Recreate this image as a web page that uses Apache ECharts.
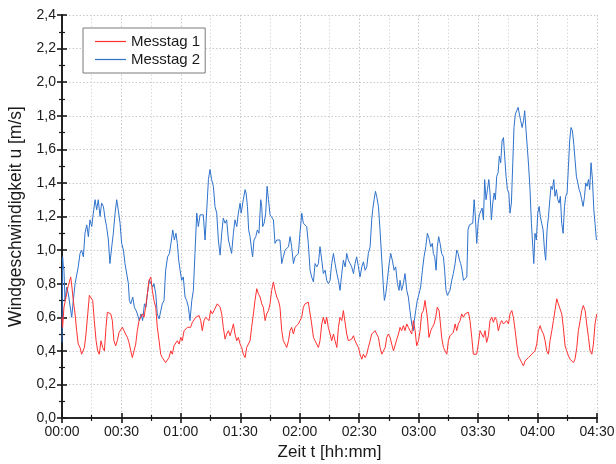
<!DOCTYPE html>
<html><head><meta charset="utf-8">
<script src="https://cdn.jsdelivr.net/npm/echarts@6/dist/echarts.min.js"></script>
<style>html,body{margin:0;padding:0;background:#fff}#c{width:616px;height:464px}</style>
</head><body><div id="c"></div>
<script>
// Time in minutes after 00:00
const xTicks = ['00:00','00:30','01:00','01:30','02:00','02:30','03:00','03:30','04:00','04:30'];
const seriesNames = ['Messtag 1','Messtag 2'];

// Messtag 1 (red)
const t1 = [0,0.3,1.0,1.7,2.4,3.0,3.7,4.4,5.0,5.7,6.6,7.4,8.2,9.1,9.9,10.8,11.3,12.1,13.0,13.8,14.6,15.5,16.3,17.2,18.0,18.8,19.7,20.5,21.4,22.2,22.9,23.7,24.6,25.4,26.2,27.1,27.9,28.8,29.6,30.5,31.3,32.1,33.0,33.8,34.7,35.5,36.3,37.2,38.0,38.9,39.7,40.6,41.4,42.2,43.1,43.9,44.8,45.6,46.4,47.3,48.1,49.0,49.8,50.6,51.5,52.3,53.2,54.0,54.9,55.7,56.5,57.4,58.2,59.1,59.9,60.7,61.6,62.4,63.3,64.1,64.9,65.8,66.6,67.5,68.3,69.2,70.0,70.8,71.7,72.5,73.4,74.2,75.0,75.9,76.7,77.6,78.4,79.3,
79.8,80.6,81.4,82.3,83.1,84.0,84.8,85.6,86.5,87.3,88.2,89.0,89.9,90.7,91.5,92.4,93.2,94.1,94.9,95.7,96.6,97.4,98.3,99.1,100.0,100.8,101.6,102.5,103.3,104.2,105.0,105.8,106.7,107.5,108.4,109.2,110.0,110.9,111.7,112.6,113.4,114.3,115.1,115.9,116.8,117.6,118.5,119.3,120.1,121.0,121.8,122.7,123.5,124.3,125.2,126.0,126.9,127.7,128.6,129.4,130.2,131.1,131.9,132.8,133.6,134.4,135.3,136.1,137.0,137.8,138.7,139.5,140.3,141.2,142.0,142.9,143.7,144.5,145.4,146.2,147.1,147.9,148.7,149.6,150.4,151.3,152.1,153.0,153.8,154.6,155.5,156.3,157.2,158.0,158.8,159.7,160.5,161.4,162.2,163.1,163.9,164.7,165.6,166.4,167.3,168.1,169.0,169.8,
170.6,171.4,172.3,173.1,174.0,174.8,175.6,176.5,177.3,178.2,179.0,179.9,180.7,181.5,182.4,183.2,183.7,184.4,185.2,186.1,186.9,187.8,188.6,189.4,190.3,191.0,191.6,192.5,193.3,194.2,195.0,195.8,196.7,197.5,198.4,199.2,200.0,200.9,201.7,202.6,203.4,204.3,205.1,205.9,206.8,207.6,208.5,209.3,210.1,211.0,211.8,212.7,213.5,214.3,215.2,216.0,216.9,217.7,218.6,219.4,220.2,221.1,221.9,222.8,223.6,224.4,225.3,226.1,227.0,227.8,228.7,229.5,230.3,231.2,232.0,232.9,233.7,234.5,235.4,236.2,237.1,237.9,238.7,239.6,240.4,241.3,242.1,243.0,243.8,244.6,245.5,246.3,247.2,248.0,248.8,249.7,250.5,251.4,252.2,253.0,253.9,254.7,255.6,256.4,257.3,258.1,258.9,259.8,260.6,261.5,262.3,263.1,264.0,264.8,265.7,266.5,267.4,268.2,269.0,269.9];
const v1 = [0.60,0.54,0.66,0.70,0.69,0.78,0.81,0.84,0.78,0.70,0.62,0.52,0.44,0.42,0.38,0.37,0.42,0.50,0.62,0.73,0.74,0.70,0.58,0.46,0.40,0.38,0.46,0.42,0.40,0.54,0.63,0.64,0.62,0.58,0.46,0.43,0.46,0.51,0.50,0.54,0.52,0.50,0.48,0.45,0.40,0.36,0.37,0.44,0.52,0.58,0.57,0.62,0.60,0.66,0.74,0.82,0.84,0.76,0.70,0.66,0.54,0.46,0.38,0.36,0.35,0.33,0.34,0.36,0.40,0.38,0.43,0.42,0.46,0.44,0.48,0.46,0.52,0.51,0.54,0.55,0.54,0.57,0.56,0.60,0.59,0.61,0.58,0.52,0.58,0.60,0.61,0.58,0.64,0.62,0.64,0.65,0.68,0.67,
0.66,0.62,0.54,0.47,0.50,0.52,0.49,0.52,0.56,0.50,0.46,0.48,0.44,0.42,0.38,0.36,0.42,0.41,0.46,0.54,0.62,0.70,0.77,0.74,0.72,0.68,0.66,0.58,0.62,0.64,0.68,0.76,0.81,0.76,0.72,0.70,0.66,0.52,0.46,0.44,0.42,0.46,0.52,0.54,0.50,0.54,0.53,0.56,0.58,0.60,0.66,0.68,0.67,0.69,0.68,0.56,0.48,0.46,0.47,0.42,0.46,0.56,0.60,0.56,0.60,0.54,0.50,0.46,0.50,0.46,0.42,0.54,0.60,0.58,0.64,0.63,0.50,0.46,0.45,0.47,0.49,0.46,0.44,0.42,0.38,0.35,0.38,0.36,0.38,0.42,0.46,0.50,0.51,0.52,0.50,0.48,0.42,0.38,0.37,0.42,0.48,0.50,0.48,0.44,0.40,0.41,0.47,0.50,
0.54,0.52,0.55,0.52,0.56,0.54,0.52,0.50,0.58,0.52,0.43,0.46,0.52,0.62,0.64,0.70,0.71,0.60,0.48,0.52,0.54,0.56,0.60,0.66,0.64,0.56,0.48,0.42,0.40,0.38,0.46,0.49,0.50,0.51,0.56,0.52,0.56,0.58,0.62,0.60,0.62,0.61,0.63,0.58,0.48,0.38,0.37,0.38,0.44,0.52,0.53,0.48,0.52,0.45,0.49,0.58,0.60,0.57,0.60,0.58,0.52,0.56,0.58,0.56,0.55,0.58,0.56,0.62,0.64,0.60,0.52,0.44,0.37,0.35,0.33,0.31,0.34,0.33,0.36,0.35,0.38,0.37,0.40,0.44,0.52,0.55,0.52,0.50,0.46,0.40,0.38,0.46,0.52,0.58,0.64,0.71,0.68,0.67,0.62,0.54,0.43,0.40,0.37,0.35,0.36,0.33,0.35,0.42,0.52,0.58,0.64,0.67,0.64,0.56,0.48,0.40,0.38,0.44,0.56,0.62];

// Messtag 2 (blue)
const t2 = [0,0.3,0.7,1.0,1.5,2.4,3.2,4.0,4.9,5.7,6.6,7.4,8.2,9.1,9.9,10.8,11.6,12.5,13.3,14.1,15.0,15.8,16.7,17.5,18.3,19.2,20.0,20.9,21.7,22.5,23.4,24.2,25.1,25.9,26.8,27.6,28.4,29.3,30.1,31.0,31.8,32.6,33.5,34.0,34.7,35.7,36.5,37.4,38.0,39.0,39.9,40.7,41.6,42.4,43.1,44.1,44.9,45.8,46.4,47.3,48.1,49.0,49.8,50.6,51.5,52.3,53.3,54.2,55.0,55.9,56.7,57.5,58.2,58.9,59.6,60.4,61.2,62.1,62.9,63.8,64.6,65.5,66.3,67.1,68.0,68.8,69.7,70.5,71.3,72.2,73.0,73.9,74.7,75.5,76.4,77.2,78.1,78.9,79.8,
80.6,81.4,82.3,83.1,84.0,84.8,85.6,86.5,87.3,88.2,89.0,89.9,90.4,91.0,91.5,92.4,92.9,93.6,94.2,94.9,95.7,96.2,96.9,97.8,98.6,99.4,100.3,100.8,101.3,102.0,102.8,103.5,104.2,105.0,105.8,106.7,107.5,108.4,109.2,110.0,110.9,111.7,112.6,113.4,114.3,115.1,115.9,116.8,117.6,118.5,119.3,120.1,121.0,121.8,122.7,123.5,124.3,125.2,126.0,126.9,127.7,128.6,129.4,130.2,131.1,131.9,132.8,133.6,134.4,135.3,136.1,137.0,137.8,138.7,139.5,140.3,141.2,142.0,142.9,143.7,144.5,145.4,146.2,147.1,147.9,148.7,149.6,150.4,151.3,152.1,153.0,153.8,154.6,155.5,156.3,156.8,157.5,158.2,158.8,159.7,160.5,161.4,162.2,162.7,163.4,164.2,165.1,165.9,166.7,167.6,168.4,169.3,170.1,
170.6,171.4,172.3,173.1,174.0,174.8,175.6,176.5,177.3,177.8,178.5,179.3,180.2,181.0,181.9,182.7,183.6,184.4,185.2,186.1,186.9,187.4,188.1,188.8,189.4,190.1,190.8,191.6,192.5,193.1,193.8,194.5,195.2,195.8,196.7,197.5,198.4,199.2,199.9,200.6,201.2,201.9,202.6,203.4,204.3,204.9,205.6,206.4,207.3,208.0,208.6,209.3,210.0,210.6,211.3,212.0,212.7,213.3,214.0,214.7,215.4,216.0,216.7,217.4,218.1,218.7,219.4,220.1,220.7,221.4,222.1,222.8,223.4,224.1,224.8,225.5,226.1,226.8,227.5,228.1,228.8,229.5,230.2,230.8,231.5,232.2,232.9,233.5,234.2,234.9,235.5,236.2,236.9,237.6,238.1,238.7,239.4,240.1,240.8,241.4,242.1,242.8,243.5,244.1,244.8,245.5,246.2,246.8,247.5,248.2,248.8,249.5,250.2,250.9,251.5,252.2,252.9,253.6,254.2,254.9,255.6,256.2,256.9,257.6,258.3,258.9,259.6,260.3,261.0,261.6,262.3,263.0,263.7,264.3,265.0,265.7,266.3,267.0,267.7,268.4,269.0,269.7];
const v2 = [0.45,0.96,0.90,0.88,0.70,0.78,0.74,0.75,0.60,0.70,0.80,0.81,0.90,0.98,1.00,0.96,1.10,1.15,1.08,1.18,1.14,1.22,1.30,1.24,1.30,1.20,1.28,1.26,1.19,1.14,1.06,0.92,1.02,1.10,1.22,1.30,1.24,1.16,1.04,1.00,0.92,0.92,0.80,0.70,0.68,0.72,0.66,0.64,0.62,0.58,0.62,0.58,0.68,0.66,0.74,0.82,0.82,0.78,0.80,0.74,0.62,0.59,0.60,0.68,0.70,0.88,0.96,0.98,1.04,1.12,1.06,1.10,1.04,0.94,0.88,0.82,0.84,0.72,0.70,0.66,0.58,0.70,0.76,0.98,1.22,1.14,1.21,1.20,1.21,1.06,1.06,1.42,1.48,1.42,1.38,1.26,1.22,1.06,0.97,
1.10,1.19,1.16,1.18,1.06,1.02,0.98,1.10,1.18,1.14,1.22,1.28,1.22,1.21,1.30,1.36,1.34,1.26,1.12,1.08,1.00,0.96,1.06,1.08,1.12,1.10,1.30,1.26,1.14,1.16,1.22,1.38,1.30,1.21,1.20,1.18,1.04,1.06,1.07,1.06,0.92,0.96,1.00,0.99,1.02,1.08,1.02,0.92,0.96,0.97,0.98,1.10,1.22,1.16,1.17,1.14,1.04,0.88,0.84,0.81,0.92,0.90,0.92,1.02,0.94,0.86,0.88,0.82,0.80,0.82,0.92,0.98,0.92,0.86,0.82,0.76,0.86,0.94,0.90,0.98,0.94,0.92,0.90,0.86,0.92,0.96,0.90,0.84,0.90,0.93,0.88,0.90,0.98,1.02,1.18,1.24,1.30,1.35,1.32,1.26,1.12,0.94,0.78,0.70,0.74,0.82,0.92,0.98,0.94,0.88,0.90,0.80,0.76,
0.82,0.76,0.80,0.86,0.76,0.72,0.64,0.56,0.52,0.58,0.64,0.70,0.74,0.78,0.88,0.96,1.02,1.10,1.07,1.02,1.04,0.98,0.96,0.88,1.02,1.08,1.04,0.98,0.96,0.88,0.76,0.73,0.74,0.76,0.82,0.86,0.92,1.00,0.98,0.94,0.92,0.88,0.82,0.81,0.84,1.12,1.15,1.14,1.16,1.30,1.20,1.04,1.16,1.21,1.20,1.25,1.18,1.42,1.30,1.36,1.42,1.34,1.18,1.28,1.34,1.30,1.44,1.46,1.56,1.52,1.65,1.67,1.56,1.44,1.36,1.34,1.22,1.28,1.52,1.73,1.81,1.83,1.85,1.81,1.77,1.73,1.77,1.83,1.71,1.60,1.50,1.36,1.16,1.02,0.92,1.10,1.06,1.22,1.26,1.20,1.16,1.12,1.00,0.94,1.12,1.20,1.30,1.38,1.36,1.42,1.32,1.36,1.30,1.28,1.32,1.16,1.10,1.26,1.32,1.34,1.50,1.65,1.73,1.71,1.63,1.54,1.44,1.40,1.36,1.34,1.30,1.26,1.32,1.40,1.38,1.42,1.36,1.52,1.42,1.24,1.16,1.06];

const yMin = 0, yMax = 2.4, yStep = 0.2;
const xMin = 0, xMax = 270, xStep = 30;

const d1 = t1.map((t, i) => [t, v1[i]]);
const d2 = t2.map((t, i) => [t, v2[i]]);

const FONT = '"Liberation Sans", Arial, sans-serif';
const fmtTime = v => xTicks[Math.round(v / xStep)] || '';
const fmtY = v => v.toFixed(1).replace('.', ',');
const axisLineStyle = { color: '#1a1a1a', width: 1.6 };
const gridDot = { color: '#c9c9c9', type: [1.5, 2], width: 1 };

const chart = echarts.init(document.getElementById('c'), null, { renderer: 'canvas' });
chart.setOption({
  animation: false,
  backgroundColor: '#fff',
  grid: { left: 62, right: 19, top: 15, bottom: 46, containLabel: false, outerBoundsMode: 'none' },
  legend: {
    orient: 'vertical', left: 83, top: 28,
    padding: [6, 5, 6, 12], itemGap: 3,
    itemWidth: 31, itemHeight: 1.2, icon: 'rect',
    borderColor: '#7a7a7a', borderWidth: 1, backgroundColor: '#fff',
    textStyle: { fontFamily: FONT, fontSize: 15, color: '#1a1a1a' },
    data: seriesNames
  },
  xAxis: [{
    type: 'value', min: xMin, max: xMax, interval: xStep,
    name: 'Zeit t [hh:mm]', nameLocation: 'middle', nameGap: 26,
    nameTextStyle: { fontFamily: FONT, fontSize: 17, color: '#1a1a1a' },
    axisLine: { show: true, lineStyle: axisLineStyle },
    axisTick: { show: true, inside: true, length: 5, lineStyle: axisLineStyle },
    minorTick: { show: true, splitNumber: 2, length: 3, lineStyle: { color: '#1a1a1a', width: 1.2 } },
    axisLabel: { formatter: fmtTime, fontFamily: FONT, fontSize: 14, color: '#1a1a1a', margin: 7 },
    splitLine: { show: true, lineStyle: gridDot },
    minorSplitLine: { show: true, lineStyle: { color: '#dadada', type: [1.5, 2], width: 1 } }
  }, {
    type: 'value', min: xMin, max: xMax, interval: xStep, position: 'top',
    axisLine: { show: true, lineStyle: axisLineStyle },
    axisTick: { show: true, inside: true, length: 5, lineStyle: axisLineStyle },
    minorTick: { show: true, splitNumber: 2, length: 3, lineStyle: { color: '#1a1a1a', width: 1.2 } },
    axisLabel: { show: false }, splitLine: { show: false }
  }],
  yAxis: [{
    type: 'value', min: yMin, max: yMax, interval: yStep,
    name: 'Windgeschwindigkeit u [m/s]', nameLocation: 'middle', nameGap: 34,
    nameTextStyle: { fontFamily: FONT, fontSize: 17.5, color: '#1a1a1a' },
    axisLine: { show: true, lineStyle: axisLineStyle },
    axisTick: { show: true, inside: true, length: 5, lineStyle: axisLineStyle },
    minorTick: { show: true, splitNumber: 2, length: 3, lineStyle: { color: '#1a1a1a', width: 1.2 } },
    axisLabel: { formatter: fmtY, fontFamily: FONT, fontSize: 14, color: '#1a1a1a', margin: 6 },
    splitLine: { show: true, lineStyle: gridDot }
  }, {
    type: 'value', min: yMin, max: yMax, interval: yStep, position: 'right',
    axisLine: { show: true, lineStyle: axisLineStyle },
    axisTick: { show: true, inside: true, length: 5, lineStyle: axisLineStyle },
    minorTick: { show: true, splitNumber: 2, length: 3, lineStyle: { color: '#1a1a1a', width: 1.2 } },
    axisLabel: { show: false }, splitLine: { show: false }
  }],
  series: [{
    name: seriesNames[0], type: 'line', data: d1, showSymbol: false, symbol: 'none',
    lineStyle: { color: '#ff3030', width: 1 }, itemStyle: { color: '#ff3030' }, z: 3
  }, {
    name: seriesNames[1], type: 'line', data: d2, showSymbol: false, symbol: 'none',
    lineStyle: { color: '#2f72cc', width: 1 }, itemStyle: { color: '#2f72cc' }, z: 2
  }]
});
</script></body></html>
